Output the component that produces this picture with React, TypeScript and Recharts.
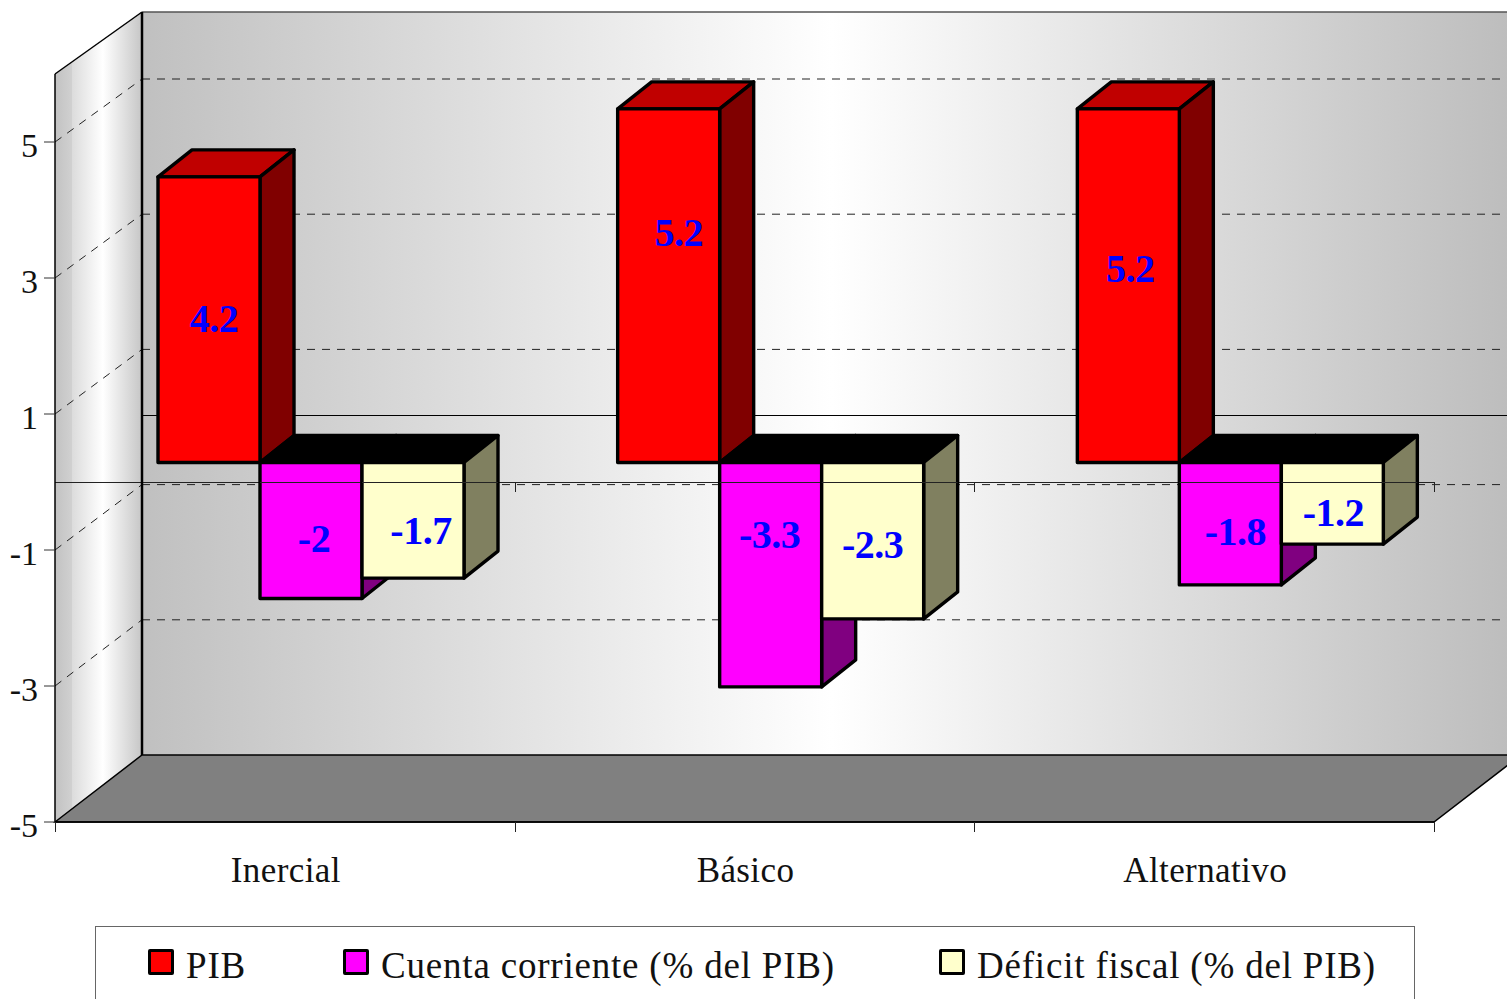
import { BarChart, Bar, XAxis, YAxis, Legend, LabelList } from "recharts";

const categories = ["Inercial", "Básico", "Alternativo"];
const pib = [4.2, 5.2, 5.2];
const cuentaCorriente = [-2, -3.3, -1.8];
const deficitFiscal = [-1.7, -2.3, -1.2];
const yTicks = [-5, -3, -1, 1, 3, 5];

const rows = categories.map((name, i) => ({
  name,
  pib: pib[i],
  cuenta: cuentaCorriente[i],
  deficit: deficitFiscal[i],
}));

// the data labels were dragged by hand in the original, so each has its own nudge
const pibNudges = [[5, -1], [10, -53], [2, -17]];
const cuentaNudges = [[3, 8], [-1, -40], [5, 8]];
const deficitNudges = [[8, 11], [0, 4], [1, 10]];

const FONT = '"Liberation Serif", serif';
const WIDTH = 1507;
const HEIGHT = 999;
const LEFT = 55;
const RIGHT = 1434;
const TOP = 74;
const BOTTOM = 822;

// pseudo-3D box: walls sit behind the front plane, bars in the middle
const WALL_DX = 87;
const BAR_DX = 26;
const BAR_DY = -19.5;
const DEPTH_X = 34;
const DEPTH_Y = -27;

const frontY = (v: number) => 482 - 68 * v;
const backY = (v: number) => 417 - 67.6 * v;
const ZERO_LINE_Y = frontY(0) + 0.5;

function Walls() {
  const backLeft = LEFT + WALL_DX;
  return (
    <g>
      <defs>
        <linearGradient id="backWall" x1="0" y1="0" x2="1" y2="0">
          <stop offset="0%" stopColor="#c0c0c0" />
          <stop offset="50%" stopColor="#ffffff" />
          <stop offset="100%" stopColor="#bcbcbc" />
        </linearGradient>
        <linearGradient id="sideWall" x1="0" y1="0" x2="1" y2="0">
          <stop offset="0%" stopColor="#c2c2c2" />
          <stop offset="19%" stopColor="#d0d0d0" />
          <stop offset="20%" stopColor="#dcdcdc" />
          <stop offset="55%" stopColor="#ffffff" />
          <stop offset="100%" stopColor="#c6c6c6" />
        </linearGradient>
      </defs>
      <rect x={backLeft} y={12} width={WIDTH - backLeft + 14} height={743} fill="url(#backWall)" />
      <line x1={backLeft} y1={12} x2={WIDTH} y2={12} stroke="#555" strokeWidth={1.5} />
      <polygon
        points={`${LEFT},${TOP} ${backLeft},12 ${backLeft},755 ${LEFT},${BOTTOM}`}
        fill="url(#sideWall)"
      />
      <polygon
        points={`${LEFT},${BOTTOM} ${backLeft},755 ${WIDTH + 14},755 ${RIGHT},${BOTTOM}`}
        fill="#808080"
        stroke="#000"
        strokeWidth={1.5}
      />
      {yTicks.map((v) => (
        <g key={v} stroke="#222" strokeWidth={1} strokeDasharray="8 7" fill="none">
          {v !== -5 && <line x1={LEFT} y1={frontY(v)} x2={backLeft} y2={backY(v)} />}
          {v !== -5 && <line x1={backLeft} y1={backY(v)} x2={WIDTH} y2={backY(v)} />}
        </g>
      ))}
      <line x1={backLeft} y1={415.5} x2={WIDTH} y2={415.5} stroke="#000" strokeWidth={1} />
      <line x1={LEFT} y1={ZERO_LINE_Y} x2={RIGHT} y2={ZERO_LINE_Y} stroke="#222" strokeWidth={1} />
      <line x1={LEFT} y1={TOP} x2={backLeft} y2={12} stroke="#000" strokeWidth={1.5} />
      <line x1={backLeft} y1={12} x2={backLeft} y2={755} stroke="#000" strokeWidth={2.5} />
    </g>
  );
}

function Box3D(props: any) {
  const { x, y, width, height, fill, sideFill, topFill } = props;
  const left = x + BAR_DX;
  const right = left + width;
  const top = Math.min(y, y + height) + BAR_DY;
  const bottom = Math.max(y, y + height) + BAR_DY;
  const line = { stroke: "#000", strokeWidth: 3.4, strokeLinejoin: "round" as const };
  // the chart's zero line shows through the bars that hang across it
  const crossesZero = top < ZERO_LINE_Y && bottom > ZERO_LINE_Y;
  return (
    <g>
      <polygon
        points={`${left},${top} ${right},${top} ${right + DEPTH_X},${top + DEPTH_Y} ${left + DEPTH_X},${top + DEPTH_Y}`}
        fill={topFill}
        {...line}
      />
      <polygon
        points={`${right},${top} ${right + DEPTH_X},${top + DEPTH_Y} ${right + DEPTH_X},${bottom + DEPTH_Y} ${right},${bottom}`}
        fill={sideFill}
        {...line}
      />
      <rect x={left} y={top} width={width} height={bottom - top} fill={fill} {...line} />
      {crossesZero && (
        <line x1={left} y1={ZERO_LINE_Y} x2={right + DEPTH_X} y2={ZERO_LINE_Y} stroke="#222" strokeWidth={1} />
      )}
    </g>
  );
}

function valueLabel(nudges: number[][]) {
  return (props: any) => {
    const { x, y, width, height, value, index } = props;
    const [dx, dy] = nudges[index];
    return (
      <text
        x={x + width / 2 + BAR_DX + dx}
        y={y + height / 2 - 20 + dy}
        textAnchor="middle"
        dominantBaseline="central"
        fontFamily={FONT}
        fontWeight="bold"
        fontSize={40}
        letterSpacing={-0.5}
        fill="#0000ff"
      >
        {value}
      </text>
    );
  };
}

function CategoryTick(props: any) {
  const { x, y, payload, index } = props;
  const band = (RIGHT - LEFT) / categories.length;
  const edges = index === categories.length - 1 ? [x - band / 2, x + band / 2] : [x - band / 2];
  return (
    <g>
      {edges.map((e) => {
        const tx = Math.round(e) + 0.5;
        return (
          <g key={e} stroke="#222" strokeWidth={1}>
            <line x1={tx} y1={BOTTOM} x2={tx} y2={BOTTOM + 10} />
            {e > LEFT + 1 && <line x1={tx} y1={frontY(0)} x2={tx} y2={frontY(0) + 10} />}
          </g>
        );
      })}
      <text
        x={x + 1}
        y={y + 40}
        textAnchor="middle"
        fontFamily={FONT}
        fontSize={35}
        letterSpacing={0.4}
        fill="#111"
        dominantBaseline="central"
      >
        {payload.value}
      </text>
    </g>
  );
}

const legendLefts = [52, 247, 843];

function LegendBox(props: any) {
  const entries = (props.payload || []).filter((p: any) => p.value);
  return (
    <div
      style={{
        position: "relative",
        height: 80,
        boxSizing: "border-box",
        border: "1.5px solid #666",
        background: "#fff",
      }}
    >
      {entries.map((entry: any, i: number) => (
        <div key={entry.value} style={{ position: "absolute", left: legendLefts[i], top: 22 }}>
          <span
            style={{
              position: "absolute",
              left: 0,
              top: 0,
              width: 26,
              height: 26,
              boxSizing: "border-box",
              border: "3px solid #000",
              borderRadius: 2,
              background: entry.color,
            }}
          />
          <span
            style={{
              position: "absolute",
              left: 38,
              top: -3,
              whiteSpace: "nowrap",
              fontFamily: FONT,
              fontSize: 37,
              lineHeight: "40px",
              letterSpacing: 0.8,
              color: "#111",
            }}
          >
            {entry.value}
          </span>
        </div>
      ))}
    </div>
  );
}

function ValueTick(props: any) {
  const { x, y, payload } = props;
  return (
    <text x={x} y={y + 3} textAnchor="end" dominantBaseline="central" fontFamily={FONT} fontSize={34} fill="#111">
      {payload.value}
    </text>
  );
}

export default function App() {
  return (
    <div style={{ position: "absolute", left: 0, top: 0, width: WIDTH, height: HEIGHT, overflow: "hidden" }}>
      <BarChart
        width={WIDTH}
        height={HEIGHT}
        data={rows}
        margin={{ top: TOP, right: WIDTH - RIGHT, left: 0, bottom: 37 }}
        barCategoryGap={77}
        barGap={0}
      >
        <Walls />
        <XAxis
          dataKey="name"
          axisLine={{ stroke: "#000", strokeWidth: 1.5 }}
          tickLine={false}
          tick={<CategoryTick />}
          height={60}
          interval={0}
        />
        <YAxis
          width={LEFT}
          domain={[-5, 6]}
          ticks={yTicks}
          interval={0}
          axisLine={{ stroke: "#000", strokeWidth: 1.5 }}
          tickLine={{ stroke: "#333", strokeWidth: 1 }}
          tickSize={11}
          tickMargin={6}
          tick={<ValueTick />}
        />
        <Bar
          dataKey="pib"
          name="PIB"
          fill="#ff0000"
          isAnimationActive={false}
          shape={(p: any) => <Box3D {...p} sideFill="#800000" topFill="#c00000" />}
        >
          <LabelList dataKey="pib" content={valueLabel(pibNudges)} />
        </Bar>
        <Bar
          dataKey="cuenta"
          name="Cuenta corriente (% del PIB)"
          fill="#ff00ff"
          isAnimationActive={false}
          shape={(p: any) => <Box3D {...p} sideFill="#800080" topFill="#000000" />}
        >
          <LabelList dataKey="cuenta" content={valueLabel(cuentaNudges)} />
        </Bar>
        <Bar
          dataKey="deficit"
          name="Déficit fiscal (% del PIB)"
          fill="#ffffcc"
          isAnimationActive={false}
          shape={(p: any) => <Box3D {...p} sideFill="#808060" topFill="#000000" />}
        >
          <LabelList dataKey="deficit" content={valueLabel(deficitNudges)} />
        </Bar>
        <Legend
          verticalAlign="bottom"
          itemSorter={null}
          content={<LegendBox />}
          wrapperStyle={{ left: 95, top: 926, width: 1320, bottom: "auto" }}
        />
      </BarChart>
    </div>
  );
}
